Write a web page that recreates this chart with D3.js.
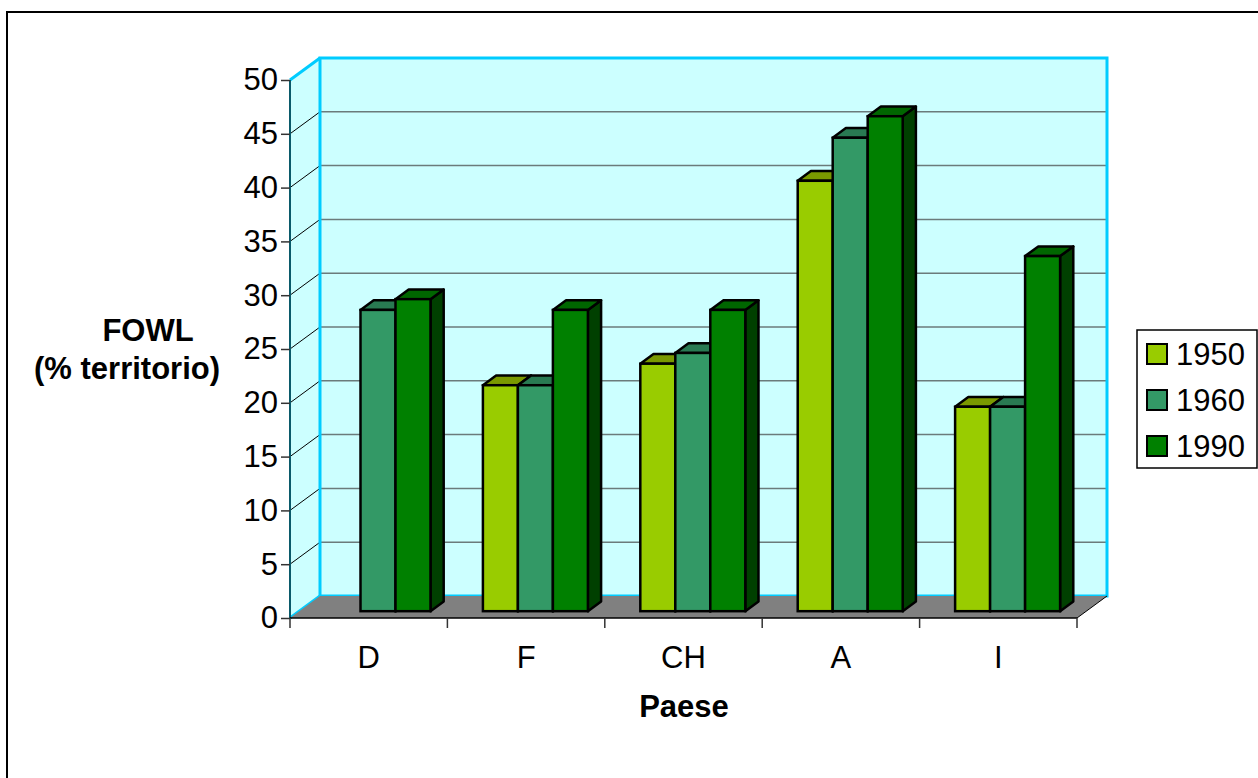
<!DOCTYPE html>
<html>
<head>
<meta charset="utf-8">
<script src="https://cdn.jsdelivr.net/npm/d3@7"></script>
<style>
  body { margin: 0; background: #fff; }
  svg { display: block; font-family: "Liberation Sans", Arial, sans-serif; }
</style>
</head>
<body>
<svg id="chart" width="1258" height="778"></svg>
<script>
const categories = ["D", "F", "CH", "A", "I"];
const series = ["1950", "1960", "1990"];
const values1950 = [0, 21, 23, 40, 19];
const values1960 = [28, 21, 24, 44, 19];
const values1990 = [29, 28, 28, 46, 33];
const yTicks = [0, 5, 10, 15, 20, 25, 30, 35, 40, 45, 50];
const seriesValues = [values1950, values1960, values1990];

const colors = {
  "1950": { front: "#99cc00", top: "#7a9900", side: "#5c7a00" },
  "1960": { front: "#339966", top: "#297a52", side: "#1f5c3d" },
  "1990": { front: "#008000", top: "#006600", side: "#004000" }
};

const FS = 31;
const svg = d3.select("#chart");

// outer frame
svg.append("rect").attr("x", 7).attr("y", 12).attr("width", 1270).attr("height", 800)
  .attr("fill", "none").attr("stroke", "#000").attr("stroke-width", 2);

const x0 = 290, x1 = 1077, yBase = 618, yTop = 80;
const DX = 30, DY = -22;

const x = d3.scaleBand().domain(categories).range([x0, x1]).paddingInner(0).paddingOuter(0);
const y = d3.scaleLinear().domain([0, 50]).range([yBase, yTop]);
const groupW = x.bandwidth() * 0.667;
const xs = d3.scaleBand().domain(series).range([-groupW / 2, groupW / 2]);

const g = svg.append("g");

// walls
const wallFill = "#ccffff", wallStroke = "#00ccff";
g.append("rect").attr("x", x0 + DX).attr("y", yTop + DY).attr("width", x1 - x0).attr("height", yBase - yTop)
  .attr("fill", wallFill);
g.append("polygon").attr("points", [[x0, yBase], [x0, yTop], [x0 + DX, yTop + DY], [x0 + DX, yBase + DY]].join(" "))
  .attr("fill", wallFill);

// gridlines
yTicks.forEach(t => {
  if (t === 0) return;
  const yy = y(t);
  g.append("line").attr("x1", x0 + DX).attr("x2", x1 + DX).attr("y1", yy + DY).attr("y2", yy + DY)
    .attr("stroke", "#6b7b7b").attr("stroke-width", 1.5);
  g.append("line").attr("x1", x0).attr("x2", x0 + DX).attr("y1", yy).attr("y2", yy + DY)
    .attr("stroke", "#000").attr("stroke-width", 1);
});

// wall borders
g.append("polyline").attr("points", [[x0 + DX, yBase + DY], [x0 + DX, yTop + DY], [x1 + DX, yTop + DY], [x1 + DX, yBase + DY], [x0 + DX, yBase + DY]].join(" "))
  .attr("fill", "none").attr("stroke", wallStroke).attr("stroke-width", 3);
g.append("polyline").attr("points", [[x0, yBase], [x0 + DX, yBase + DY]].join(" "))
  .attr("fill", "none").attr("stroke", wallStroke).attr("stroke-width", 3);
g.append("line").attr("x1", x0).attr("y1", yTop).attr("x2", x0 + DX).attr("y2", yTop + DY)
  .attr("stroke", wallStroke).attr("stroke-width", 3);

// floor
g.append("polygon").attr("points", [[x0, yBase], [x1, yBase], [x1 + DX, yBase + DY], [x0 + DX, yBase + DY]].join(" "))
  .attr("fill", "#808080");
g.append("line").attr("x1", x1).attr("y1", yBase).attr("x2", x1 + DX).attr("y2", yBase + DY)
  .attr("stroke", "#000").attr("stroke-width", 1);

// left axis line (front)
g.append("line").attr("x1", x0).attr("x2", x0).attr("y1", yTop).attr("y2", yBase)
  .attr("stroke", "#0a5a6a").attr("stroke-width", 2);

// bars
const f0 = 0.31, f1 = 0.75;
const bw = xs.bandwidth();
categories.forEach((c, ci) => {
  series.forEach((s, si) => {
    const v = seriesValues[si][ci];
    if (!v) return;
    const col = colors[s];
    const bx = x(c) + x.bandwidth() / 2 + xs(s) + DX * f0;
    const by0 = yBase + DY * f0;
    const byt = y(v) + DY * f0;
    const ddx = DX * (f1 - f0), ddy = DY * (f1 - f0);
    const bar = g.append("g");
    bar.append("polygon").attr("points", [[bx + bw, by0], [bx + bw, byt], [bx + bw + ddx, byt + ddy], [bx + bw + ddx, by0 + ddy]].join(" "))
      .attr("fill", col.side).attr("stroke", "#000").attr("stroke-width", 2.5).attr("stroke-linejoin", "round");
    bar.append("polygon").attr("points", [[bx, byt], [bx + bw, byt], [bx + bw + ddx, byt + ddy], [bx + ddx, byt + ddy]].join(" "))
      .attr("fill", col.top).attr("stroke", "#000").attr("stroke-width", 2.5).attr("stroke-linejoin", "round");
    bar.append("rect").attr("x", bx).attr("y", byt).attr("width", bw).attr("height", by0 - byt)
      .attr("fill", col.front).attr("stroke", "#000").attr("stroke-width", 2.5);
  });
});

// bottom axis line
g.append("line").attr("x1", x0).attr("x2", x1).attr("y1", yBase).attr("y2", yBase)
  .attr("stroke", "#000").attr("stroke-width", 1.5);

// y axis
const yAxis = d3.axisLeft(y).tickValues(yTicks).tickSize(9).tickPadding(3);
const ya = svg.append("g").attr("transform", `translate(${x0},0)`).call(yAxis);
ya.attr("font-size", FS).attr("font-family", "Liberation Sans, Arial, sans-serif");
ya.select(".domain").remove();
ya.selectAll(".tick line").attr("stroke", "#333").attr("stroke-width", 1.5);
ya.selectAll(".tick text").attr("fill", "#000");

// x axis ticks (category boundaries)
const bounds = categories.map(c => x(c)).concat([x1]);
bounds.forEach(bx => {
  svg.append("line").attr("x1", bx).attr("x2", bx).attr("y1", yBase).attr("y2", yBase + 10)
    .attr("stroke", "#333").attr("stroke-width", 1.5);
});
categories.forEach(c => {
  svg.append("text").attr("x", x(c) + x.bandwidth() / 2).attr("y", 668)
    .attr("text-anchor", "middle").attr("font-size", FS).text(c);
});

// axis titles
svg.append("text").attr("x", 684).attr("y", 717).attr("text-anchor", "middle")
  .attr("font-size", FS).attr("font-weight", "bold").text("Paese");
svg.append("text").attr("x", 148).attr("y", 341).attr("text-anchor", "middle")
  .attr("font-size", FS).attr("font-weight", "bold").text("FOWL");
svg.append("text").attr("x", 127).attr("y", 379).attr("text-anchor", "middle")
  .attr("font-size", FS).attr("font-weight", "bold").text("(% territorio)");

// legend
const lg = svg.append("g");
lg.append("rect").attr("x", 1137).attr("y", 330).attr("width", 120).attr("height", 138)
  .attr("fill", "#fff").attr("stroke", "#000").attr("stroke-width", 1.5);
series.forEach((s, i) => {
  const cy = 354 + i * 46;
  lg.append("rect").attr("x", 1147).attr("y", cy - 10).attr("width", 20).attr("height", 20)
    .attr("fill", colors[s].front).attr("stroke", "#000").attr("stroke-width", 2);
  lg.append("text").attr("x", 1176).attr("y", cy + 11).attr("font-size", FS).text(s);
});
</script>
</body>
</html>
